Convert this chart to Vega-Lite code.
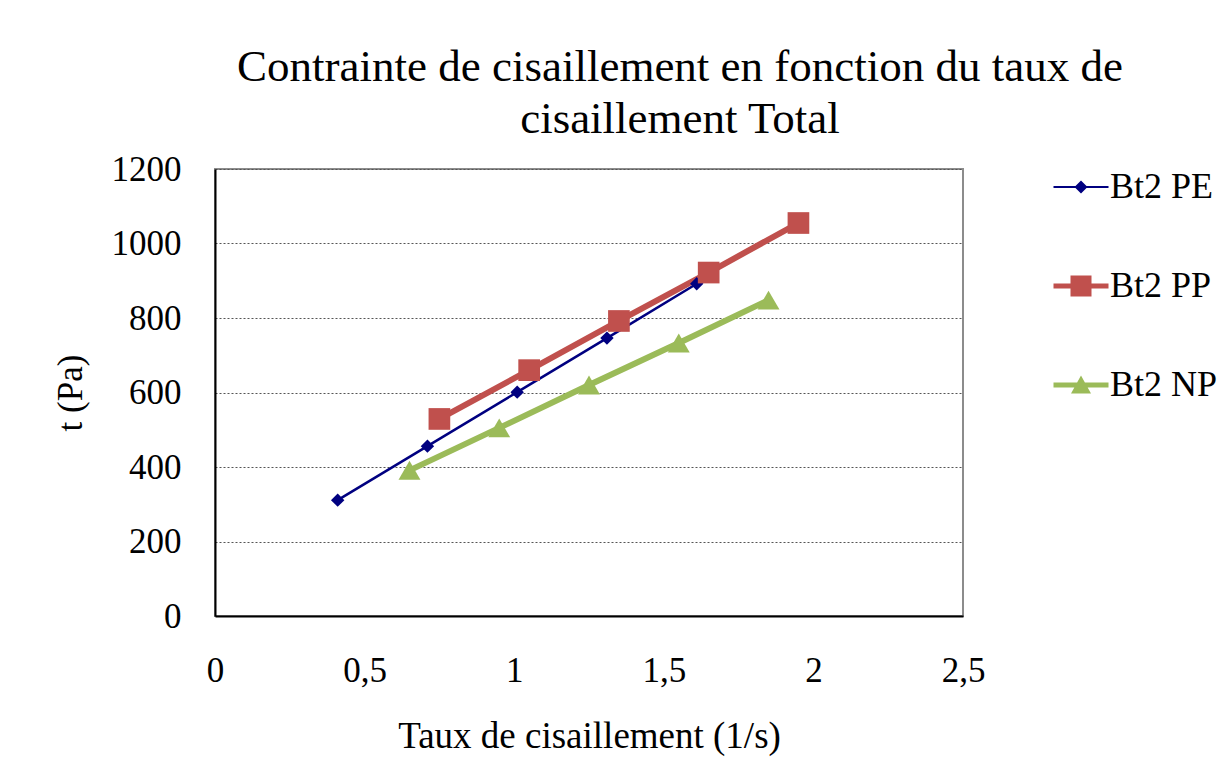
{
  "$schema": "https://vega.github.io/schema/vega-lite/v6.json",
  "width": 748,
  "height": 447,
  "autosize": {"type": "none"},
  "padding": {"left": 215, "top": 169, "right": 259, "bottom": 166},
  "background": "white",
  "title": {
    "text": ["Contrainte de cisaillement en fonction du taux de", "cisaillement Total"],
    "font": "Liberation Serif",
    "fontSize": 45,
    "fontWeight": "normal",
    "color": "black",
    "anchor": "middle",
    "dx": 91,
    "offset": 10,
    "lineHeight": 52
  },
  "config": {
    "view": {"stroke": "#8c8c8c", "strokeWidth": 2},
    "axis": {
      "labelFont": "Liberation Serif",
      "titleFont": "Liberation Serif",
      "labelColor": "black",
      "titleColor": "black",
      "titleFontWeight": "normal",
      "ticks": false,
      "tickSize": 0,
      "domainColor": "black",
      "domainWidth": 2
    },
    "legend": {
      "labelFont": "Liberation Serif",
      "labelFontSize": 36,
      "labelColor": "black"
    }
  },
  "data": {
    "values": [
      {"serie": "Bt2 PE", "taux": 0.41, "contrainte": 311},
      {"serie": "Bt2 PE", "taux": 0.71, "contrainte": 456},
      {"serie": "Bt2 PE", "taux": 1.01, "contrainte": 601},
      {"serie": "Bt2 PE", "taux": 1.31, "contrainte": 746},
      {"serie": "Bt2 PE", "taux": 1.61, "contrainte": 892},
      {"serie": "Bt2 PP", "taux": 0.75, "contrainte": 529},
      {"serie": "Bt2 PP", "taux": 1.05, "contrainte": 660},
      {"serie": "Bt2 PP", "taux": 1.35, "contrainte": 792},
      {"serie": "Bt2 PP", "taux": 1.65, "contrainte": 922},
      {"serie": "Bt2 PP", "taux": 1.95, "contrainte": 1055},
      {"serie": "Bt2 NP", "taux": 0.65, "contrainte": 391},
      {"serie": "Bt2 NP", "taux": 0.95, "contrainte": 505},
      {"serie": "Bt2 NP", "taux": 1.25, "contrainte": 620},
      {"serie": "Bt2 NP", "taux": 1.55, "contrainte": 733},
      {"serie": "Bt2 NP", "taux": 1.85, "contrainte": 848}
    ]
  },
  "encoding": {
    "x": {
      "field": "taux",
      "type": "quantitative",
      "scale": {"domain": [0, 2.5], "nice": false},
      "axis": {
        "title": "Taux de cisaillement (1/s)",
        "values": [0, 0.5, 1, 1.5, 2, 2.5],
        "labelExpr": "replace('' + datum.value, '.', ',')",
        "labelFontSize": 35,
        "labelPadding": 37,
        "labelFlush": false,
        "labelOverlap": false,
        "titleFontSize": 37,
        "titlePadding": 30,
        "grid": false
      }
    },
    "y": {
      "field": "contrainte",
      "type": "quantitative",
      "scale": {"domain": [0, 1200], "nice": false},
      "axis": {
        "title": "t (Pa)",
        "values": [0, 200, 400, 600, 800, 1000, 1200],
        "format": "d",
        "labelFontSize": 35,
        "labelPadding": 34,
        "labelFlush": false,
        "labelOverlap": false,
        "titleFontSize": 35,
        "titlePadding": 23,
        "grid": true,
        "gridColor": "#555555",
        "gridDash": [2, 2],
        "gridWidth": 1
      }
    },
    "color": {
      "field": "serie",
      "type": "nominal",
      "scale": {"domain": ["Bt2 PE", "Bt2 PP", "Bt2 NP"], "range": ["#000080", "#C0504D", "#9BBB59"]},
      "legend": {
        "title": null,
        "orient": "right",
        "offset": 100,
        "labelFont": "Liberation Serif",
        "labelFontSize": 36,
        "labelColor": "black",
        "labelLimit": 0,
        "labelOffset": 11,
        "rowPadding": 63,
        "symbolSize": 400,
        "symbolStrokeWidth": 0,
        "encode": {
          "symbols": {
            "update": {
              "shape": {"signal": "datum.value === 'Bt2 PE' ? 'M-2.75,-0.1H2.75V0.1H-2.75Z M0,-0.65L0.65,0L0,0.65L-0.65,0Z' : datum.value === 'Bt2 PP' ? 'M-2.75,-0.25H2.75V0.25H-2.75Z M-1.05,-1.05H1.05V1.05H-1.05Z' : 'M-2.75,-0.25H2.75V0.25H-2.75Z M0,-0.95L1,0.85L-1,0.85Z'"},
              "fill": {"scale": "color", "field": "value"},
              "strokeWidth": {"value": 0},
              "opacity": {"value": 1},
              "fillOpacity": {"value": 1}
            }
          }
        }
      }
    }
  },
  "layer": [
    {
      "mark": {"type": "line", "strokeJoin": "round"},
      "encoding": {
        "strokeWidth": {
          "condition": {"test": "datum.serie === 'Bt2 PE'", "value": 2.5},
          "value": 6
        }
      }
    },
    {
      "mark": {"type": "point", "filled": true, "opacity": 1, "strokeWidth": 0},
      "encoding": {
        "shape": {
          "condition": [
            {"test": "datum.serie === 'Bt2 PE'", "value": "diamond"},
            {"test": "datum.serie === 'Bt2 PP'", "value": "square"}
          ],
          "value": "triangle-up"
        },
        "size": {
          "condition": [
            {"test": "datum.serie === 'Bt2 PE'", "value": 180},
            {"test": "datum.serie === 'Bt2 PP'", "value": 470}
          ],
          "value": 480
        }
      }
    }
  ]
}
